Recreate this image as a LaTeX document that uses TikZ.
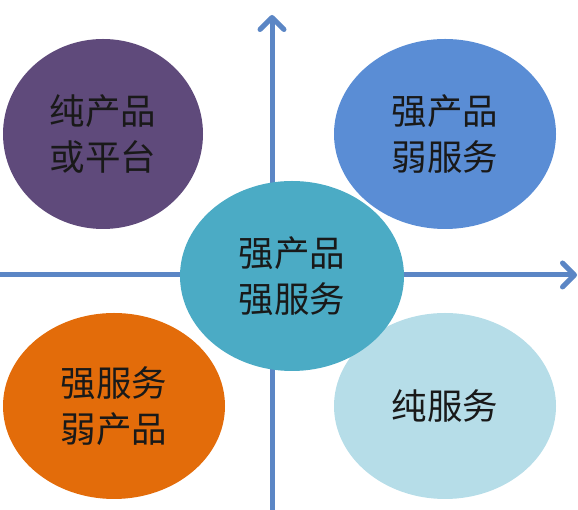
\documentclass[tikz,border=0pt]{standalone}
\usepackage{fontspec}
\newfontfamily\cjk{Noto Sans CJK SC}
\usetikzlibrary{shapes.geometric}
\usetikzlibrary{arrows.meta}
\definecolor{axisblue}{HTML}{5B86C5}
\definecolor{cpurple}{HTML}{5F4A7B}
\definecolor{cblue}{HTML}{5A8DD5}
\definecolor{cteal}{HTML}{4BABC5}
\definecolor{corange}{HTML}{E36C0A}
\definecolor{clight}{HTML}{B6DDE8}
\tikzset{
    axis/.style = {line width=5pt,draw=axisblue,-{Straight Barb[round,length=12pt,width=24pt]}},
    blob/.style = {ellipse, inner sep=0pt, align=center, text=black!90,
                   font=\cjk\fontsize{35.5}{46}\selectfont},
}
\begin{document}
\begin{tikzpicture}[x=1pt,y=1pt]
\useasboundingbox (0,0) rectangle (578,510);
%
\coordinate (vbot) at (272,0);
\coordinate (vtop) at (272,495);
\coordinate (hleft) at (0,235);
\coordinate (hright) at (577,235);
%
\draw[axis] (vbot) -- (vtop);
\draw[axis] (hleft) -- (hright);
%
\node[blob, fill=cpurple, minimum width=200pt, minimum height=190pt] at (103,376) (pure) {纯产品\\或平台};
\node[blob, fill=cblue, minimum width=222pt, minimum height=190pt] at (445,376) (sprod) {强产品\\弱服务};
\node[blob, fill=corange, minimum width=222pt, minimum height=186pt] at (114,104) (sserv) {强服务\\弱产品};
\node[blob, fill=clight, minimum width=222pt, minimum height=186pt] at (445,104) (serv) {纯服务};
\node[blob, fill=cteal, minimum width=224pt, minimum height=190pt] at (292,234) (both) {强产品\\强服务};

\end{tikzpicture}
\end{document}
